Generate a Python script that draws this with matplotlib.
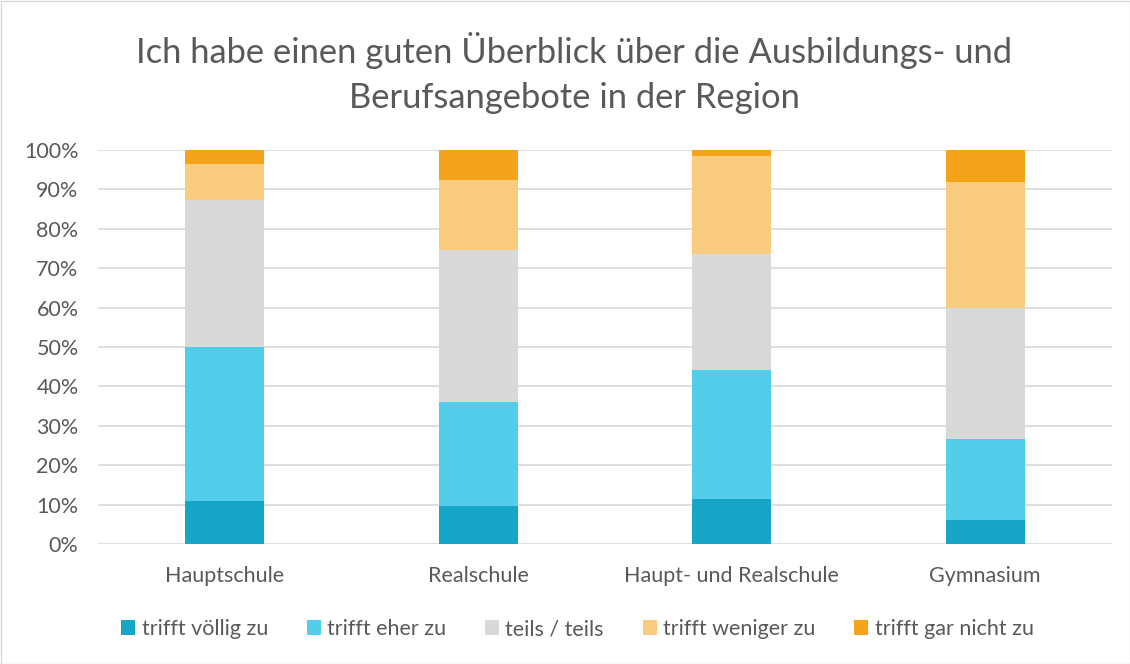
import matplotlib.pyplot as plt
import numpy as np

plt.rcParams['font.family'] = ['Lato', 'DejaVu Sans']

categories = ['Hauptschule', 'Realschule', 'Haupt- und Realschule', 'Gymnasium']
series_names = ['trifft völlig zu', 'trifft eher zu', 'teils / teils',
                'trifft weniger zu', 'trifft gar nicht zu']
values = {
    'trifft völlig zu':    [10.9, 9.7, 11.5, 6.2],
    'trifft eher zu':      [39.0, 26.4, 32.6, 20.5],
    'teils / teils':       [37.3, 38.6, 29.4, 33.1],
    'trifft weniger zu':   [9.2, 17.7, 25.0, 32.0],
    'trifft gar nicht zu': [3.6, 7.6, 1.5, 8.2],
}
colors = ['#17A6C8', '#52CEEA', '#D9D9D9', '#FACC80', '#F5A31A']

fig = plt.figure(figsize=(11.3, 6.64), dpi=100)
ax = fig.add_axes([98 / 1130, 1 - 544 / 664, 1014 / 1130, 394 / 664])

x = np.arange(len(categories))
bottom = np.zeros(len(categories))
for name, col in zip(series_names, colors):
    v = np.array(values[name]) / 100
    ax.bar(x, v, 0.312, bottom=bottom, color=col, label=name, zorder=3)
    bottom += v

ax.set_xlim(-0.5, 3.5)
ax.set_ylim(0, 1)
ticks = np.arange(0, 1.01, 0.1)
ax.set_yticks(ticks)
ax.set_yticklabels([f'{int(round(t * 100))}%' for t in ticks])
ax.set_xticks(x)
ax.set_xticklabels(categories)
ax.grid(axis='y', color='#D9D9D9', linewidth=1.2, zorder=0)
for s in ax.spines.values():
    s.set_visible(False)
ax.tick_params(length=0, colors='#595959', labelsize=15.5)
ax.tick_params(axis='x', pad=16)
ax.tick_params(axis='y', pad=14)

fig.text(0.508, 1 - 73 / 664,
         'Ich habe einen guten Überblick über die Ausbildungs- und\nBerufsangebote in der Region',
         ha='center', va='center', fontsize=24.8, color='#595959', linespacing=1.5)

leg = fig.legend(loc='center', bbox_to_anchor=(0.511, 1 - 629 / 664), ncol=5,
                 frameon=False, fontsize=15.5, handlelength=0.65, handleheight=0.65,
                 handletextpad=0.3, columnspacing=1.8)
for t in leg.get_texts():
    t.set_color('#595959')

fig.patches.append(plt.Rectangle((0.5 / 1130, 0.5 / 664), 1 - 1 / 1130, 1 - 1 / 664,
                                 transform=fig.transFigure, fill=False,
                                 edgecolor='#D9D9D9', linewidth=1))

fig.savefig('out.png', dpi=100)
